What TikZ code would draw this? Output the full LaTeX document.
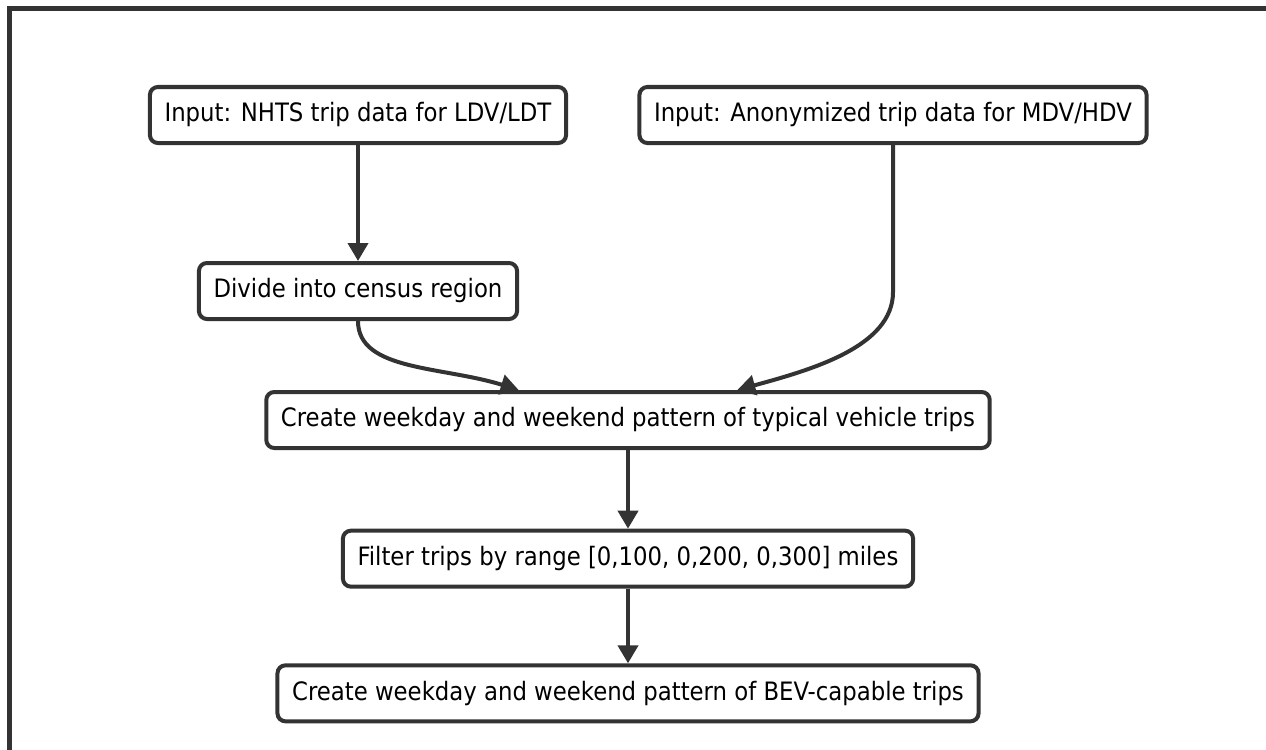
\documentclass[tikz,border=0pt]{standalone}
\usepackage{xcolor}
\usepackage{tikz}
\usetikzlibrary{positioning,arrows.meta}
\usepackage{fontspec}
\setmainfont{DejaVu Sans Condensed}
\definecolor{flowgray}{RGB}{51,51,51}

\begin{document}
\begin{tikzpicture}[x=0.75pt,y=-0.75pt,
        box/.style={draw=flowgray,line width=3pt,rounded corners=6pt,fill=white,
            minimum height=42pt,inner xsep=11pt,font=\fontsize{19pt}{22pt}\selectfont},
        flow/.style={draw=flowgray,line width=3pt,-{Triangle[length=13.5pt,width=15pt]}}]
        \useasboundingbox (0,0) rectangle (1266,749);
        \clip (0,0) rectangle (1266,749);
        % outer frame
        \draw[flowgray,line width=3.75pt] (9,9) rectangle (1300,800);

        \node[box] (nhts) at (358,115) {Input: NHTS trip data for LDV/LDT};
        \node[box] (anon) at (893,115) {Input: Anonymized trip data for MDV/HDV};
        \node[box,below=87pt of nhts] (census) {Divide into census region};
        \node[box] (typical) at (628,420) {Create weekday and weekend pattern of typical vehicle trips};
        \node[box,below=59pt of typical] (filter) {Filter trips by range [0,100, 0,200, 0,300] miles};
        \node[box,below=56pt of filter] (bev) {Create weekday and weekend pattern of BEV-capable trips};

        \draw[flow] (nhts) -- (census);
        \draw[flow] (census.south) .. controls +(0,50) and +(-77,-24) .. ([xshift=-82pt]typical.north);
        \draw[flow] (anon.south) -- ++(0,147) .. controls +(0,55) and +(73,-20) .. ([xshift=82pt]typical.north);
        \draw[flow] (typical) -- (filter);
        \draw[flow] (filter) -- (bev);
    \end{tikzpicture}
\end{document}
